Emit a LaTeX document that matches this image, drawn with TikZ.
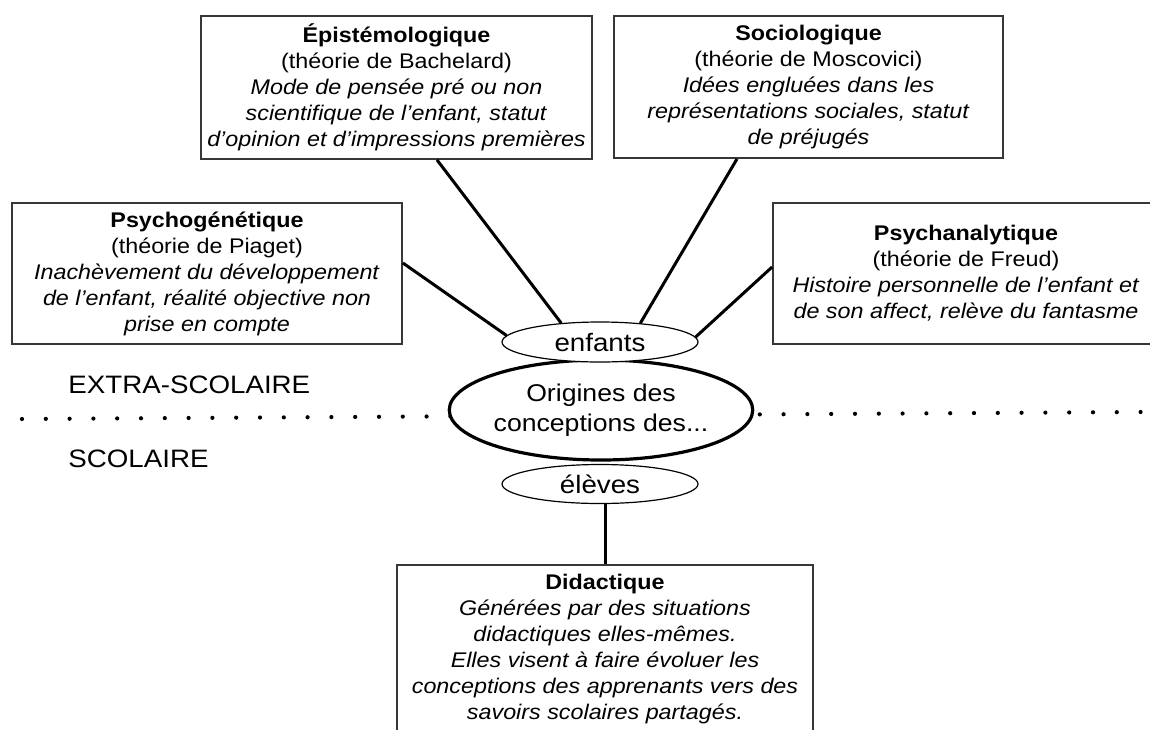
\documentclass[tikz,border=0pt]{standalone}
\usepackage{fontspec}
\setmainfont{Liberation Sans}[FakeStretch=1.1]
\usetikzlibrary{shapes.geometric, positioning, calc}
\definecolor{boxEdge}{RGB}{55,55,55}

\begin{document}
\begin{tikzpicture}[x=0.5pt, y=-0.5pt]
        \tikzstyle{box} = [rectangle, draw=boxEdge, line width=0.9pt, fill=white, inner sep=0pt, align=center, font=\fontsize{10.6}{13}\selectfont]
        \tikzstyle{tag} = [ellipse, draw, line width=0.6pt, fill=white, inner sep=0pt, minimum width=98pt, minimum height=20pt, font=\fontsize{12.6}{15}\selectfont]
        \tikzstyle{zone} = [anchor=base west, inner sep=0pt, font=\fontsize{12.6}{15}\selectfont]
        \tikzstyle{link} = [line width=1.5pt]

        \clip (0,0) rectangle (1150,729);
        \fill[white] (0,0) rectangle (1150,729);

        % separation extra-scolaire / scolaire
        \coordinate (sepL) at (22,419);
        \coordinate (sepR) at (1143,412);
        \draw[line width=2.1pt, line cap=round, dash pattern=on 0pt off 11.9pt] (sepL) -- (sepR);

        \node[zone] (extra) at (68,393) {EXTRA-SCOLAIRE};
        \node[zone] (scol) at (68,467) {SCOLAIRE};

        \node[box, minimum width=195.5pt, minimum height=71.5pt] (epist) at (396.5,87.5) {\textbf{Épistémologique}\\(théorie de Bachelard)\\\textit{Mode de pensée pré ou non}\\\textit{scientifique de l’enfant, statut}\\\textit{d’opinion et d’impressions premières}};
        \node[box, minimum width=194.5pt, minimum height=71pt] (socio) at (808.5,87) {\textbf{Sociologique}\\(théorie de Moscovici)\\\textit{Idées engluées dans les}\\\textit{représentations sociales, statut}\\\textit{de préjugés}};
        \node[box, minimum width=195pt, minimum height=70.5pt] (psygen) at (207,273.5) {\textbf{Psychogénétique}\\(théorie de Piaget)\\\textit{Inachèvement du développement}\\\textit{de l’enfant, réalité objective non}\\\textit{prise en compte}};
        \node[box, minimum width=193pt, minimum height=70.5pt] (psyana) at (966,273.5) {\textbf{Psychanalytique}\\(théorie de Freud)\\\textit{Histoire personnelle de l’enfant et}\\\textit{de son affect, relève du fantasme}};
        \node[box, minimum width=208pt, minimum height=84.5pt] (didact) at (605,649.5) {\textbf{Didactique}\\\textit{Générées par des situations}\\\textit{didactiques elles-mêmes.}\\\textit{Elles visent à faire évoluer les}\\\textit{conceptions des apprenants vers des}\\\textit{savoirs scolaires partagés.}};

        \node[ellipse, draw, line width=1.6pt, fill=white, inner sep=0pt, minimum width=139pt, minimum height=50pt, align=center, font=\fontsize{12.1}{15}\selectfont] (origin) at (601,410) {Origines des\\conceptions des...};
        \node[tag] (enfants) at (600,342) {enfants};
        \node[tag, minimum height=19.5pt] (eleves) at (600,484) {élèves};

        \draw[link] ([xshift=20.25pt]epist.south) -- (enfants.154.6);
        \draw[link] ([xshift=-35.75pt]socio.south) -- (enfants.25.4);
        \draw[link] ([yshift=5.25pt]psygen.east) -- (enfants.176);
        \draw[link] ([yshift=3.25pt]psyana.west) -- (enfants.3);
        \draw[link] (didact.north |- eleves.south) -- (didact.north);
    \end{tikzpicture}
\end{document}
